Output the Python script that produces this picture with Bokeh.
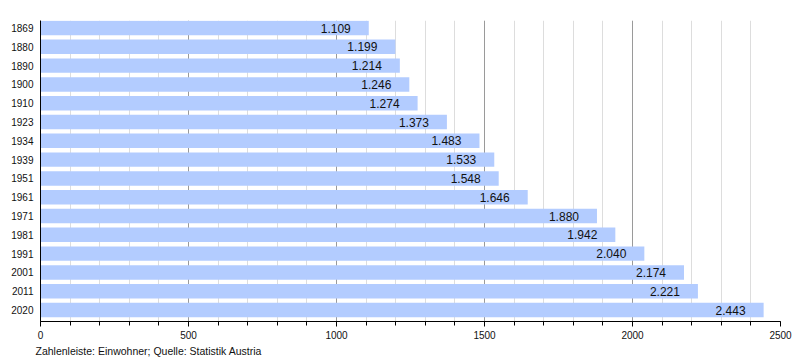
from bokeh.plotting import figure
from bokeh.models import ColumnDataSource, Range1d, FixedTicker, SingleIntervalTicker, Title
from bokeh.core.properties import value
from bokeh.embed import file_html
from bokeh.resources import INLINE

years = ["1869", "1880", "1890", "1900", "1910", "1923", "1934", "1939",
         "1951", "1961", "1971", "1981", "1991", "2001", "2011", "2020"]
population = [1109, 1199, 1214, 1246, 1274, 1373, 1483, 1533,
              1548, 1646, 1880, 1942, 2040, 2174, 2221, 2443]
caption = "Zahlenleiste: Einwohner; Quelle: Statistik Austria"

n = len(years)
ypos = [n - 1 - i for i in range(n)]  # first year at top
labels = [f"{v:,}".replace(",", ".") for v in population]

src = ColumnDataSource(dict(y=ypos, v=population, lab=labels, year=years))

FONT = "Liberation Sans"

p = figure(width=800, height=360, output_backend="svg", toolbar_location=None,
           x_range=Range1d(0, 2500), y_range=Range1d(-0.61, n - 1 + 0.4),
           min_border_left=40, min_border_right=20, min_border_top=20, min_border_bottom=39)
p.outline_line_color = None
p.background_fill_color = "white"

p.hbar(y="y", left=0, right="v", height=0.77, source=src,
       fill_color="#b3ccff", line_color=None)
p.text(x="v", y="y", text="lab", source=src, text_align="right", text_baseline="middle",
       x_offset=-18, text_font=value(FONT), text_font_size="12px", text_color="#111")

# x axis
p.xaxis.ticker = SingleIntervalTicker(interval=500, num_minor_ticks=5)
p.xaxis.axis_line_color = "black"
p.xaxis.major_tick_line_color = "black"
p.xaxis.minor_tick_line_color = "black"
p.xaxis.major_tick_in = 0
p.xaxis.major_tick_out = 5
p.xaxis.minor_tick_in = 0
p.xaxis.minor_tick_out = 4
p.xaxis.major_label_standoff = 4
p.xaxis.major_label_text_font = FONT
p.xaxis.major_label_text_font_size = "10px"
p.xaxis.major_label_text_color = "#111"

# y axis
p.yaxis.ticker = FixedTicker(ticks=ypos)
p.yaxis.major_label_overrides = {yy: yr for yy, yr in zip(ypos, years)}
p.yaxis.axis_line_color = "black"
p.yaxis.major_tick_line_color = None
p.yaxis.minor_tick_line_color = None
p.yaxis.major_tick_in = 0
p.yaxis.major_tick_out = 0
p.yaxis.major_label_standoff = 7
p.yaxis.major_label_text_font = FONT
p.yaxis.major_label_text_font_size = "10px"
p.yaxis.major_label_text_color = "#111"

# grids
p.ygrid.grid_line_color = None
p.xgrid.grid_line_color = "#9a9a9a"
p.xgrid.minor_grid_line_color = "#dddddd"

t = Title(text=caption, align="left", text_font=FONT, text_font_size="10.5px",
          text_font_style="normal", text_color="#111", offset=-5, standoff=2)
p.add_layout(t, "below")

open("out.html", "w").write(file_html(p, INLINE))
